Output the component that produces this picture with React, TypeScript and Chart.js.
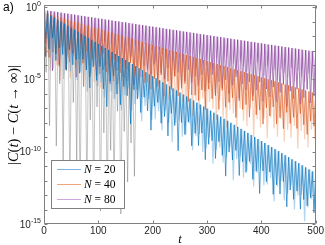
import React, { useEffect, useRef } from "react";
import { Chart, registerables } from "chart.js";

Chart.register(...registerables);

// sampling period of the oscillation (t units): peaks at k*period, dips half-way
const period = 6.25;

const xTicks = [0, 100, 200, 300, 400, 500];
const yLabelExps = [0, -5, -10, -15];
const legendLabels = ["20", "40", "80"];

// log10 values
const bluePeaks = [-0.30,-0.44,-0.58,-0.72,-0.86,-1.00,-1.14,-1.28,-1.42,-1.56,-1.70,-1.84,-1.98,-2.12,-2.26,-2.40,-2.54,-2.68,-2.82,-2.96,-3.10,-3.24,-3.38,-3.52,-3.66,-3.80,-3.94,-4.08,-4.22,-4.36,-4.50,-4.64,-4.78,-4.92,-5.06,-5.20,-5.34,-5.48,-5.62,-5.76,-5.90,-6.04,-6.18,-6.32,-6.46,-6.60,-6.74,-6.88,-7.02,-7.16,-7.30,-7.44,-7.58,-7.72,-7.86,-8.00,-8.14,-8.28,-8.42,-8.56,-8.70,-8.84,-8.98,-9.12,-9.26,-9.40,-9.54,-9.68,-9.82,-9.96,-10.10,-10.24,-10.38,-10.52,-10.66,-10.80,-10.94,-11.08,-11.22,-11.36,-11.50];
const blueDarkDips = [-2.17,-2.91,-2.15,-3.69,-2.83,-3.27,-4.31,-2.95,-3.99,-3.63,-4.57,-3.61,-4.35,-5.59,-4.13,-5.07,-4.11,-5.65,-6.89,-5.13,-4.77,-6.01,-6.75,-5.49,-6.13,-8.07,-5.71,-6.35,-7.29,-6.23,-7.17,-8.51,-6.85,-6.59,-8.03,-7.57,-8.91,-7.35,-8.19,-9.93,-7.97,-8.81,-7.95,-9.59,-8.73,-9.57,-8.71,-10.55,-9.49,-9.23,-10.47,-9.31,-10.25,-11.69,-10.03,-10.57,-9.91,-11.65,-10.69,-11.43,-10.67,-11.91,-11.35,-12.89,-11.33,-12.07,-11.41,-12.95,-12.29,-12.93,-12.07,-13.81,-12.65,-13.29,-12.73,-13.97,-13.31,-13.75,-13.19,-14.23];
const blueLightDips = [-1.77,-3.41,-4.25,-2.59,-3.43,-4.97,-3.41,-4.45,-3.09,-5.03,-4.47,-3.81,-5.85,-4.59,-4.03,-5.47,-5.21,-6.25,-4.69,-5.83,-6.37,-5.31,-7.15,-6.09,-5.63,-7.17,-6.71,-6.25,-7.89,-6.83,-6.37,-7.81,-7.75,-7.19,-8.53,-7.17,-8.01,-9.35,-7.99,-7.83,-8.97,-8.81,-8.05,-9.89,-8.93,-8.77,-10.01,-9.75,-8.99,-10.83,-9.87,-9.71,-10.75,-10.39,-9.73,-11.97,-10.51,-10.35,-11.79,-11.33,-10.87,-12.41,-11.45,-11.09,-12.33,-12.27,-11.81,-13.45,-12.39,-12.03,-13.37,-12.91,-12.35,-13.99,-13.03,-12.97,-14.81,-13.85,-13.29,-13.93];
const grayDips = [-4.5,-8.2,-3.1,-9.6,-5.3,-10.8,-4.4,-12.9,-6.6,-10.8,-13.2,-5.5,-12.9,-7.8,-13.8,-6.9,-14.1,-8.7,-13.5,-9.9,-12.9,-7.2,-14.3,-8.6,-12.1,-9.4,-11.7];

const orangePeaks = [-0.37,-0.44,-0.51,-0.58,-0.65,-0.72,-0.79,-0.86,-0.93,-1.00,-1.07,-1.14,-1.21,-1.28,-1.35,-1.42,-1.49,-1.56,-1.63,-1.70,-1.77,-1.84,-1.91,-1.98,-2.05,-2.12,-2.19,-2.26,-2.33,-2.40,-2.47,-2.54,-2.61,-2.68,-2.75,-2.82,-2.89,-2.96,-3.03,-3.10,-3.17,-3.24,-3.31,-3.38,-3.45,-3.52,-3.59,-3.66,-3.73,-3.80,-3.87,-3.94,-4.01,-4.08,-4.15,-4.22,-4.29,-4.36,-4.43,-4.50,-4.57,-4.64,-4.71,-4.78,-4.85,-4.92,-4.99,-5.06,-5.13,-5.20,-5.27,-5.34,-5.41,-5.48,-5.55,-5.62,-5.69,-5.76,-5.83,-5.90,-5.97];
const orangeDarkDips = [-2.51,-3.48,-2.15,-3.22,-4.09,-2.66,-3.23,-3.80,-2.67,-4.24,-3.31,-3.88,-3.05,-4.82,-3.69,-3.46,-4.63,-3.20,-4.47,-4.14,-5.11,-3.78,-4.55,-4.12,-5.09,-3.86,-4.73,-5.70,-4.37,-5.24,-4.31,-5.68,-4.95,-5.32,-4.69,-6.16,-5.13,-5.70,-4.77,-6.14,-5.61,-5.28,-6.55,-5.22,-6.09,-6.46,-5.73,-7.10,-5.67,-6.34,-6.11,-7.08,-5.75,-6.92,-6.59,-6.26,-7.63,-6.30,-7.07,-6.74,-7.61,-6.48,-7.45,-7.12,-8.09,-6.96,-7.53,-6.90,-8.07,-7.64,-8.41,-7.28,-8.05,-7.62,-8.39,-7.36,-8.13,-8.80,-7.87,-8.24];
const orangeLightDips = [-3.21,-4.38,-2.85,-4.02,-5.09,-3.36,-3.93,-4.90,-3.37,-4.64,-4.01,-5.48,-3.45,-4.62,-5.19,-4.16,-5.63,-4.10,-5.17,-4.74,-6.31,-4.28,-5.15,-5.72,-4.89,-6.36,-4.83,-5.70,-6.27,-4.74,-6.11,-6.98,-5.35,-5.82,-6.79,-5.36,-6.43,-5.90,-7.37,-5.74,-6.51,-7.08,-5.75,-7.52,-6.49,-7.06,-6.33,-8.10,-6.57,-7.04,-7.81,-6.48,-7.65,-8.32,-7.09,-7.36,-8.33,-7.00,-7.87,-8.24,-7.01,-8.98,-7.75,-8.32,-7.69,-9.06,-7.63,-8.40,-8.97,-7.74,-9.31,-8.48,-9.05,-8.22,-9.79,-8.56,-9.13,-9.69,-8.47,-9.14];

const purplePeaks = [-0.20,-0.24,-0.27,-0.31,-0.34,-0.38,-0.42,-0.45,-0.49,-0.52,-0.56,-0.60,-0.63,-0.67,-0.70,-0.74,-0.78,-0.81,-0.85,-0.88,-0.92,-0.96,-0.99,-1.03,-1.06,-1.10,-1.14,-1.17,-1.21,-1.24,-1.28,-1.32,-1.35,-1.39,-1.42,-1.46,-1.50,-1.53,-1.57,-1.60,-1.64,-1.68,-1.71,-1.75,-1.78,-1.82,-1.86,-1.89,-1.93,-1.96,-2.00,-2.04,-2.07,-2.11,-2.14,-2.18,-2.22,-2.25,-2.29,-2.32,-2.36,-2.40,-2.43,-2.47,-2.50,-2.54,-2.58,-2.61,-2.65,-2.68,-2.72,-2.76,-2.79,-2.83,-2.86,-2.90,-2.94,-2.97,-3.01,-3.04,-3.08];
const purpleDarkDips = [-3.42,-2.86,-4.39,-3.23,-3.96,-2.80,-4.34,-3.57,-3.21,-4.84,-3.58,-3.12,-4.35,-3.99,-3.52,-4.76,-3.40,-4.33,-3.97,-5.30,-3.64,-4.38,-3.91,-4.85,-4.28,-3.62,-5.36,-4.19,-4.83,-4.06,-5.20,-4.64,-3.97,-5.51,-4.54,-4.98,-4.22,-5.55,-4.79,-4.52,-5.36,-5.10,-4.33,-6.07,-4.80,-5.44,-4.68,-5.81,-5.25,-4.68,-6.12,-5.16,-5.59,-5.03,-5.96,-5.40,-4.84,-6.47,-5.31,-5.74,-5.18,-6.12,-5.75,-5.19,-6.52,-5.66,-6.20,-5.53,-6.57,-5.90,-5.34,-6.88,-5.81,-6.35,-5.68,-6.72,-6.26,-5.69,-6.63,-6.16];
const purpleLightDips = [-1.82,-2.46,-1.59,-2.23,-2.76,-1.90,-2.44,-2.17,-2.81,-1.94,-2.38,-2.72,-2.25,-3.19,-2.02,-2.66,-3.00,-2.33,-2.87,-2.60,-3.34,-2.38,-2.81,-3.15,-2.68,-3.42,-2.66,-3.09,-3.43,-2.56,-3.30,-3.04,-3.77,-2.91,-3.24,-3.58,-2.92,-3.85,-3.19,-3.52,-3.86,-3.20,-3.73,-3.47,-4.30,-3.24,-3.68,-4.01,-3.55,-4.28,-3.52,-3.96,-4.29,-3.43,-4.16,-3.90,-4.64,-3.77,-4.11,-4.44,-3.98,-4.72,-3.85,-4.39,-4.72,-4.06,-4.60,-4.33,-5.07,-4.30,-4.54,-4.88,-4.21,-5.15,-4.38,-4.82,-5.16,-4.59,-5.03,-4.76];

const colors = {
  blueDark: "rgba(0,114,189,0.72)",
  blueLight: "rgba(125,185,230,0.6)",
  gray: "rgba(70,70,70,0.45)",
  orangeDark: "rgba(217,83,25,0.7)",
  orangeLight: "rgba(244,170,130,0.55)",
  purpleDark: "rgba(126,47,142,0.7)",
  purpleLight: "rgba(198,160,218,0.6)",
};
const legendColors = ["#7fb3e3", "#f2a47f", "#cfa6df"];

function buildSeries(peaks: number[], dips: number[], shift: number) {
  const pts: { x: number; y: number }[] = [];
  for (let k = 0; k < peaks.length; k++) {
    pts.push({ x: shift + k * period, y: Math.pow(10, peaks[k]) });
    if (k < dips.length) pts.push({ x: shift + k * period + period / 2, y: Math.pow(10, dips[k]) });
  }
  return pts;
}

const SERIF = "'Liberation Serif', 'DejaVu Serif', 'Times New Roman', serif";
const SANS = "'Liberation Sans', Arial, Helvetica, sans-serif";

function drawRich(ctx: CanvasRenderingContext2D, segs: [string, boolean][], size: number, x: number, y: number, align: "left" | "center") {
  let total = 0;
  const widths = segs.map(([s, it]) => {
    ctx.font = `${it ? "italic " : ""}${size}px ${SERIF}`;
    const w = ctx.measureText(s).width;
    total += w;
    return w;
  });
  let cx = align === "center" ? x - total / 2 : x;
  segs.forEach(([s, it], i) => {
    ctx.font = `${it ? "italic " : ""}${size}px ${SERIF}`;
    ctx.fillText(s, cx, y);
    cx += widths[i];
  });
}

const decor = {
  id: "decor",
  afterDraw(chart: any) {
    const { ctx, chartArea: a, scales } = chart;
    const xs = scales.x;
    const ys = scales.y;
    const L = Math.round(a.left) + 0.5;
    const R = Math.round(a.right) - 0.5;
    const T = Math.round(a.top) + 0.5;
    const B = Math.round(a.bottom) - 0.5;
    ctx.save();
    ctx.strokeStyle = "#808080";
    ctx.lineWidth = 1;
    ctx.beginPath();
    ctx.moveTo(L, T); ctx.lineTo(R, T); ctx.lineTo(R, B); ctx.lineTo(L, B); ctx.closePath();
    ctx.stroke();
    ctx.beginPath();
    xTicks.forEach((v) => {
      const px = Math.round(xs.getPixelForValue(v)) + 0.5;
      ctx.moveTo(px, B); ctx.lineTo(px, B - 3);
      ctx.moveTo(px, T); ctx.lineTo(px, T + 3);
    });
    for (let e = 0; e >= -15; e--) {
      const py = Math.round(ys.getPixelForValue(Math.pow(10, e))) + 0.5;
      ctx.moveTo(L, py); ctx.lineTo(L + 3, py);
      ctx.moveTo(R, py); ctx.lineTo(R - 3, py);
    }
    ctx.stroke();

    // y tick labels 10^e
    ctx.fillStyle = "#262626";
    ctx.textBaseline = "middle";
    ctx.textAlign = "left";
    yLabelExps.forEach((e) => {
      const py = ys.getPixelForValue(Math.pow(10, e));
      const expText = String(e);
      ctx.font = `7px ${SANS}`;
      const we = ctx.measureText(expText).width;
      ctx.font = `10px ${SANS}`;
      const wb = ctx.measureText("10").width;
      const right = a.left - 3;
      ctx.fillText("10", right - we - wb, py + 1);
      ctx.font = `7px ${SANS}`;
      ctx.fillText(expText, right - we, py - 3);
    });

    // legend
    const lx = 51, ly = 160, lw = 73, lh = 48;
    ctx.fillStyle = "#ffffff";
    ctx.fillRect(lx, ly, lw, lh);
    ctx.strokeStyle = "#808080";
    ctx.strokeRect(lx + 0.5, ly + 0.5, lw, lh);
    legendLabels.forEach((lab, i) => {
      const yy = ly + 9.5 + i * 15;
      ctx.strokeStyle = legendColors[i];
      ctx.lineWidth = 1;
      ctx.beginPath();
      ctx.moveTo(57, yy); ctx.lineTo(81, yy);
      ctx.stroke();
      ctx.fillStyle = "#000000";
      ctx.textBaseline = "middle";
      drawRich(ctx, [["N", true], [" = " + lab, false]], 11.5, 84, yy + 0.5, "left");
    });

    // axis titles
    ctx.fillStyle = "#000000";
    ctx.textBaseline = "middle";
    drawRich(ctx, [["t", true]], 12.5, 180, 240, "center");
    ctx.save();
    ctx.translate(14, 115);
    ctx.rotate(-Math.PI / 2);
    drawRich(
      ctx,
      [["|", false], ["C", true], ["(", false], ["t", true], [") \u2212 ", false], ["C", true], ["(", false], ["t", true], [" \u2192 \u221E)|", false]],
      14.5, 0, 0, "center"
    );
    ctx.restore();

    // panel label
    ctx.font = `12px ${SANS}`;
    ctx.fillStyle = "#000000";
    ctx.textAlign = "left";
    ctx.fillText("a)", 3, 8);
    ctx.restore();
  },
};

export default function App() {
  const ref = useRef<HTMLCanvasElement | null>(null);
  useEffect(() => {
    if (!ref.current) return;
    const line = (data: any[], color: string, order: number, width = 1) => ({
      data, borderColor: color, borderWidth: width, pointRadius: 0, tension: 0, fill: false, order,
    });
    const chart = new Chart(ref.current, {
      type: "line",
      data: {
        datasets: [
          line(buildSeries(bluePeaks, blueDarkDips, 0), colors.blueDark, 0, 0.9),
          line(buildSeries(bluePeaks.slice(0, grayDips.length + 1), grayDips, 0.8), colors.gray, 1, 0.7),
          line(buildSeries(bluePeaks, blueLightDips, period / 4), colors.blueLight, 2, 1.2),
          line(buildSeries(orangePeaks, orangeDarkDips, 0), colors.orangeDark, 3, 0.9),
          line(buildSeries(orangePeaks, orangeLightDips, period / 4), colors.orangeLight, 4, 1.2),
          line(buildSeries(purplePeaks, purpleDarkDips, 0), colors.purpleDark, 5, 0.9),
          line(buildSeries(purplePeaks, purpleLightDips, period / 4), colors.purpleLight, 6, 1.2),
        ] as any,
      },
      options: {
        animation: false,
        responsive: false,
        devicePixelRatio: 1,
        layout: { padding: { top: 5, right: 9, left: 0, bottom: 0 } },
        plugins: { legend: { display: false }, tooltip: { enabled: false } },
        scales: {
          x: {
            type: "linear",
            min: 0,
            max: 500,
            grid: { display: false, drawTicks: false },
            border: { display: false },
            ticks: { stepSize: 100, color: "#262626", font: { size: 10, family: SANS }, padding: 1, maxRotation: 0 },
            afterFit: (s: any) => { s.height = 21; },
          },
          y: {
            type: "logarithmic",
            min: 1e-15,
            max: Math.pow(10, 0.15),
            grid: { display: false, drawTicks: false },
            border: { display: false },
            ticks: { display: false },
            afterBuildTicks: (s: any) => { s.ticks = yLabelExps.map((e) => ({ value: Math.pow(10, e) })); },
            afterFit: (s: any) => { s.width = 44; },
          },
        },
      } as any,
      plugins: [decor],
    });
    return () => chart.destroy();
  }, []);
  return (
    <div style={{ position: "absolute", left: 0, top: 0, width: 325, height: 245, background: "#fff" }}>
      <canvas ref={ref} width={325} height={245} />
    </div>
  );
}
